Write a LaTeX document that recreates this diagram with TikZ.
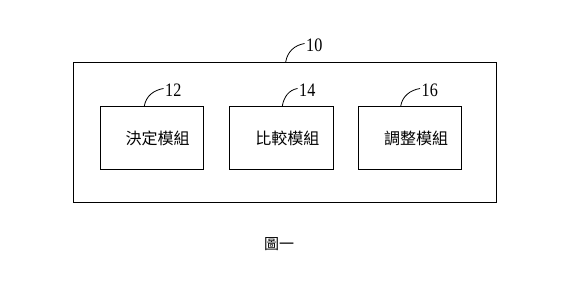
\documentclass[tikz,border=0pt]{standalone}
\usepackage{fontspec}
\setmainfont{Liberation Serif}
\newfontfamily\cjk{Noto Sans CJK TC}
\newfontfamily\numfont[FakeStretch=0.85]{Liberation Serif}
\usetikzlibrary{positioning}
\tikzset{
  outerbox/.style={draw, line width=0.9pt, minimum width=423pt, minimum height=140pt, inner sep=0pt},
  modbox/.style={draw, line width=0.9pt, minimum width=103.5pt, minimum height=63pt, inner sep=0pt, font=\cjk\fontsize{16}{16}\selectfont},
  refnum/.style={anchor=west, inner sep=1.5pt, font=\numfont\fontsize{19}{19}\selectfont},
  lead/.style={line width=0.8pt},
}
\begin{document}
\begin{tikzpicture}[x=1pt,y=1pt]
\useasboundingbox (0,0) rectangle (585,295);
\node[outerbox] (sys) at (285,162.7) {};
\node[modbox] (m12) at (151.7,157) {\hspace*{12pt}決定模組};
\node[modbox] (m14) at (281.3,157) {\hspace*{12pt}比較模組};
\node[modbox] (m16) at (410,157) {\hspace*{12pt}調整模組};
% reference numerals
\node[refnum] (n10) at (304.5,250) {10};
\node[refnum] (n12) at (163.5,205) {12};
\node[refnum] (n14) at (297.5,205) {14};
\node[refnum] (n16) at (420,205) {16};
\coordinate (c10) at ([xshift=0.7pt]sys.north);
\coordinate (c12) at ([xshift=-7.4pt]m12.north);
\coordinate (c14) at ([xshift=1pt]m14.north);
\coordinate (c16) at ([xshift=-9.3pt]m16.north);
\draw[lead] (c10) to[out=80,in=190] ([yshift=1.5pt]n10.west);
\draw[lead] (c12) to[out=80,in=190] ([yshift=1.5pt]n12.west);
\draw[lead] (c14) to[out=80,in=190] ([yshift=1.5pt]n14.west);
\draw[lead] (c16) to[out=80,in=190] ([yshift=1.5pt]n16.west);
\node[font=\cjk\fontsize{15}{15}\selectfont] (cap) at (279,51) {圖一};
\end{tikzpicture}
\end{document}
